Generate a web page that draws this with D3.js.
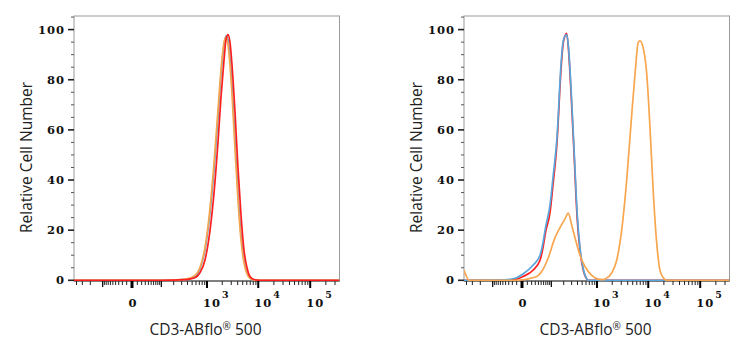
<!DOCTYPE html>
<html><head><meta charset="utf-8">
<script src="https://cdn.jsdelivr.net/npm/d3@7"></script>
<style>body{margin:0;background:#fff}svg{display:block}</style>
</head><body>
<script>
// ---- tick labels / ticks ----
const yTicks = [0, 20, 40, 60, 80, 100];
const yMinorTicks = [5, 10, 15, 25, 30, 35, 45, 50, 55, 65, 70, 75, 85, 90, 95, 105];
const xMajorTicks = [0, 1000, 10000, 100000];
const xTickBase = ["0", "10", "10", "10"];
const xTickExp = ["", "3", "4", "5"];
const xMidTicks = [-100, 100];
const xMinorTicks = [-400, -300, -200, -90, -80, -70, -60, -50, -40, -30, -20, -10,
  10, 20, 30, 40, 50, 60, 70, 80, 90, 200, 300, 400, 500, 600, 700, 800, 900,
  2000, 3000, 4000, 5000, 6000, 7000, 8000, 9000,
  20000, 30000, 40000, 50000, 60000, 70000, 80000, 90000, 200000, 300000];
const xTitle = "CD3-ABflo";
const xTitleSup = "®";
const xTitleEnd = " 500";
const yTitle = "Relative Cell Number";

// ---- left panel data ----
const leftX = [-451, 100, 370, 570, 720, 910, 1150, 1380, 1650, 1890, 2170, 2370, 2590, 2830, 3100, 3550, 4050, 4640, 5300, 6060, 6930, 8270, 10800, 365000];
const leftBlue = [0, 0, 0.4, 1.6, 4.5, 12, 27, 44, 65, 82, 94, 97.5, 96, 89, 78, 56, 35, 18, 8, 3, 1, 0.2, 0, 0];
const leftOrange = [0, 0, 0.5, 2, 5, 13, 29, 47, 68, 84, 95, 97, 94, 86, 74, 52, 32, 16, 7, 2.5, 0.8, 0.2, 0, 0];
const leftRed = [0, 0, 0.3, 1, 3, 8, 20, 35, 55, 73, 88, 96, 98, 95, 86, 67, 45, 26, 12, 5, 1.5, 0.3, 0, 0];

// ---- right panel data ----
const rightX = [-451, -61.8, -13.6, 1.7, 23.5, 45.7, 53.4, 71, 92, 110.4, 139.1, 173.3, 192.8, 214.1, 233.8, 256.3, 290.7, 337.2, 396.2, 451.2, 528.1, 599.9, 668.2, 365000];
const rightRed = [0, 0, 0.3, 1.5, 4, 8, 11, 20, 27, 38, 55, 84, 94, 97.5, 98.5, 92, 75, 51, 24, 12, 4, 1, 0, 0];
const rightBlue = [0, 0.1, 0.8, 2.5, 6, 10, 13, 22, 30, 41, 57, 86, 95, 97.5, 98, 93, 77, 53, 26, 13, 4.5, 1.2, 0, 0];
const rightOrangeX = [-451, -410, -354, -13.6, 29.2, 52.2, 82.6, 124.1, 164.1, 214.1, 253.7, 301, 354.2, 451.2, 572.3, 782.8, 1061, 1333, 1441, 1951, 2443, 3058, 3825, 4782, 5540, 6420, 6923, 8018, 9327, 10793, 12495, 14531, 16822, 19474, 22646, 365000];
const rightOrange = [4, 2, 0, 0, 1.2, 3.5, 9, 17, 21, 24.5, 26.8, 22, 17, 10, 5.5, 2, 0.5, 0.3, 0.5, 2.9, 8, 20, 40, 66, 82, 95, 95.5, 92.5, 82.5, 61, 35, 15, 4, 1, 0, 0];

const RED = "#ff1f1f", BLUE = "#58a6dc", ORANGE = "#f8a64e";

const panels = [
  {dx: 0, series: [
    {x: leftX, y: leftBlue, c: BLUE},
    {x: leftX, y: leftOrange, c: ORANGE},
    {x: leftX, y: leftRed, c: RED}]},
  {dx: 390, series: [
    {x: rightX, y: rightRed, c: RED},
    {x: rightX, y: rightBlue, c: BLUE},
    {x: rightOrangeX, y: rightOrange, c: ORANGE}]}
];

const W = 750, H = 350;
const box = {l: 74, r: 339.5, t: 16, b: 281};
const svg = d3.select("body").append("svg").attr("width", W).attr("height", H);

const x = d3.scaleSymlog().constant(37.5).domain([0, 1000]).range([132, 207]);
const y = d3.scaleLinear().domain([0, 100]).range([280.3, 29.6]);

const serif = "'DejaVu Serif', serif";
const sans = "'Open Sans', 'Noto Sans', sans-serif";

panels.forEach((p, i) => {
  const g = svg.append("g").attr("transform", `translate(${p.dx},0)`);
  const cid = "clip" + i;
  g.append("clipPath").attr("id", cid).append("rect")
    .attr("x", box.l).attr("y", box.t).attr("width", box.r - box.l).attr("height", box.b - box.t);

  // frame
  g.append("rect").attr("x", box.l).attr("y", box.t)
    .attr("width", box.r - box.l).attr("height", box.b - box.t)
    .attr("fill", "none").attr("stroke", "#9a9a9a").attr("stroke-width", 1);

  // y axis ticks
  g.selectAll(".ymaj").data(yTicks).join("line")
    .attr("x1", box.l - 6).attr("x2", box.l).attr("y1", d => y(d)).attr("y2", d => y(d))
    .attr("stroke", "#222").attr("stroke-width", 1.6);
  g.selectAll(".ymin").data(yMinorTicks).join("line")
    .attr("x1", box.l - 3).attr("x2", box.l).attr("y1", d => y(d)).attr("y2", d => y(d))
    .attr("stroke", "#555").attr("stroke-width", 1);
  g.selectAll(".ylab").data(yTicks).join("text")
    .attr("x", box.l - 9).attr("y", d => y(d) + 4)
    .attr("text-anchor", "end")
    .attr("font-family", serif).attr("font-weight", "bold").attr("font-size", 11.5).attr("letter-spacing", 1)
    .attr("fill", "#111").text(d => d);

  // x axis line & ticks
  g.append("line").attr("x1", box.l).attr("x2", box.r).attr("y1", box.b).attr("y2", box.b)
    .attr("stroke", "#333").attr("stroke-width", 1);
  g.selectAll(".xmin").data(xMinorTicks).join("line")
    .attr("x1", d => x(d)).attr("x2", d => x(d)).attr("y1", box.b).attr("y2", box.b + 4)
    .attr("stroke", "#222").attr("stroke-width", 1);
  g.selectAll(".xmid").data(xMidTicks).join("line")
    .attr("x1", d => x(d)).attr("x2", d => x(d)).attr("y1", box.b).attr("y2", box.b + 6)
    .attr("stroke", "#111").attr("stroke-width", 1.3);
  g.selectAll(".xmaj").data(xMajorTicks).join("line")
    .attr("x1", d => x(d)).attr("x2", d => x(d)).attr("y1", box.b).attr("y2", box.b + 7)
    .attr("stroke", "#000").attr("stroke-width", d => d === 0 ? 3 : 2);

  const lab = g.selectAll(".xlab").data(xMajorTicks).join("text")
    .attr("x", (d, j) => j === 0 ? x(d) + 1 : x(d) - 4)
    .attr("y", 307)
    .attr("text-anchor", (d, j) => j === 0 ? "middle" : "start")
    .attr("font-family", serif).attr("font-weight", "bold").attr("font-size", 11.5).attr("letter-spacing", 1)
    .attr("fill", "#111");
  lab.append("tspan").text((d, j) => xTickBase[j]);
  lab.append("tspan").attr("dy", -9).attr("font-size", 9.5).attr("dx", 1)
    .text((d, j) => xTickExp[j]);

  // curves
  const cg = g.append("g").attr("clip-path", `url(#${cid})`);
  p.series.forEach(s => {
    const pts = s.x.map((v, k) => [v, s.y[k]]);
    cg.append("path").datum(pts)
      .attr("d", d3.line().x(d => x(d[0])).y(d => y(d[1])).curve(d3.curveMonotoneX))
      .attr("fill", "none").attr("stroke", s.c).attr("stroke-width", 1.7)
      .attr("stroke-linejoin", "round");
  });

  // titles
  const xt = g.append("text").attr("x", 205.5).attr("y", 335)
    .attr("text-anchor", "middle").attr("font-family", sans).attr("font-size", 15.5)
    .attr("fill", "#222");
  xt.append("tspan").text(xTitle);
  xt.append("tspan").attr("font-size", 10).attr("dy", -5).text(xTitleSup);
  xt.append("tspan").attr("dy", 5).text(xTitleEnd);

  g.append("text").attr("transform", `translate(32.3,157.5) rotate(-90)`)
    .attr("text-anchor", "middle").attr("font-family", sans).attr("font-size", 15.5)
    .attr("fill", "#222").text(yTitle);
});
</script>
</body></html>
